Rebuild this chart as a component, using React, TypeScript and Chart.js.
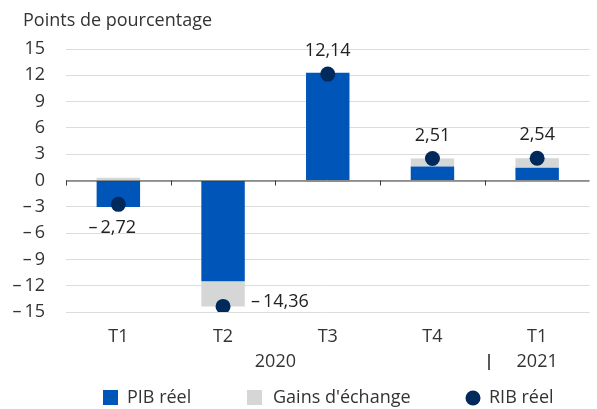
import React, { useEffect, useRef } from "react";
import { Chart, registerables } from "chart.js";

Chart.register(...registerables);

const categories = ["T1", "T2", "T3", "T4", "T1"];
const years = [
  { label: "2020", from: 0, to: 3 },
  { label: "2021", from: 4, to: 4 },
];
const pibReel = [-3.02, -11.5, 12.28, 1.6, 1.45];
const gainsEchange = [0.3, -2.86, -0.14, 0.91, 1.09];
const ribReel = [-2.72, -14.36, 12.14, 2.51, 2.54];
const yTicks = { min: -15, max: 15, step: 3 };
const titleText = "Points de pourcentage";
const legendLabels = ["PIB réel", "Gains d'échange", "RIB réel"];

const BLUE = "#0055b8";
const GRAY = "#d5d7d6";
const NAVY = "#002a5c";
const TEXT = "#222222";
const FONT = "'Open Sans', sans-serif";

const fmt = (v: number) => {
  const s = Math.abs(v).toFixed(2).replace(".", ",");
  return v < 0 ? "\u2013\u2009" + s : s;
};

const overlay = {
  id: "overlay",
  afterDatasetsDraw(chart: any) {
    const ctx = chart.ctx;
    const x = chart.scales.x;
    const y = chart.scales.y;
    const y0 = y.getPixelForValue(0);
    ctx.save();
    ctx.strokeStyle = "#3a3a3a";
    ctx.lineWidth = 1;
    ctx.beginPath();
    ctx.moveTo(chart.chartArea.left, y0 + 0.5);
    ctx.lineTo(chart.chartArea.right, y0 + 0.5);
    ctx.stroke();
    const w = x.getPixelForValue(1) - x.getPixelForValue(0);
    for (let i = 0; i < categories.length; i++) {
      const bx = Math.round(x.getPixelForValue(i) - w / 2) + 0.5;
      ctx.beginPath();
      ctx.moveTo(bx, y0);
      ctx.lineTo(bx, y0 + 5);
      ctx.stroke();
    }
    ctx.restore();
  },
  afterDraw(chart: any) {
    const ctx = chart.ctx;
    const x = chart.scales.x;
    const w = x.getPixelForValue(1) - x.getPixelForValue(0);
    ctx.save();
    ctx.fillStyle = "#333";
    ctx.font = `18px ${FONT}`;
    ctx.textAlign = "left";
    ctx.textBaseline = "middle";
    ctx.fillText(titleText, 23, 21);

    const meta = chart.getDatasetMeta(2);
    ctx.fillStyle = TEXT;
    ctx.font = `18px ${FONT}`;
    meta.data.forEach((pt: any, i: number) => {
      const v = ribReel[i];
      const t = fmt(v);
      if (i === 1) {
        ctx.textAlign = "left";
        ctx.fillText(t, pt.x + 28, pt.y - 5);
      } else if (v < 0) {
        ctx.textAlign = "center";
        ctx.fillText(t, pt.x - 6, pt.y + 24);
      } else {
        ctx.textAlign = "center";
        ctx.fillText(t, pt.x, pt.y - 23);
      }
    });

    ctx.fillStyle = "#333";
    ctx.font = `18px ${FONT}`;
    ctx.textAlign = "center";
    years.forEach((yr) => {
      const cx = (x.getPixelForValue(yr.from) + x.getPixelForValue(yr.to)) / 2;
      ctx.fillText(yr.label, cx, 362);
    });
    ctx.strokeStyle = "#222";
    ctx.lineWidth = 1.5;
    const sx = Math.round(x.getPixelForValue(3) + w / 2) + 4;
    ctx.beginPath();
    ctx.moveTo(sx, 354);
    ctx.lineTo(sx, 370);
    ctx.stroke();

    const ly = 398;
    ctx.font = `18px ${FONT}`;
    ctx.textAlign = "left";
    ctx.fillStyle = BLUE;
    ctx.fillRect(103, ly - 8, 15, 15);
    ctx.fillStyle = "#333";
    ctx.fillText(legendLabels[0], 127, ly);
    ctx.fillStyle = GRAY;
    ctx.fillRect(247, ly - 8, 15, 15);
    ctx.fillStyle = "#333";
    ctx.fillText(legendLabels[1], 273, ly);
    ctx.fillStyle = NAVY;
    ctx.beginPath();
    ctx.arc(473, ly, 7.5, 0, Math.PI * 2);
    ctx.fill();
    ctx.fillStyle = "#333";
    ctx.fillText(legendLabels[2], 489, ly);
    ctx.restore();
  },
};

export default function App() {
  const ref = useRef<HTMLCanvasElement | null>(null);
  useEffect(() => {
    if (!ref.current) return;
    const chart = new Chart(ref.current, {
      type: "bar",
      data: {
        labels: categories,
        datasets: [
          {
            type: "bar",
            label: legendLabels[0],
            data: pibReel,
            backgroundColor: BLUE,
            stack: "a",
            order: 2,
            barPercentage: 0.415,
            categoryPercentage: 1,
          },
          {
            type: "bar",
            label: legendLabels[1],
            data: gainsEchange,
            backgroundColor: GRAY,
            stack: "a",
            order: 3,
            barPercentage: 0.415,
            categoryPercentage: 1,
          },
          {
            type: "line",
            label: legendLabels[2],
            data: ribReel,
            showLine: false,
            stack: "rib",
            order: 0,
            pointRadius: 7.5,
            pointHoverRadius: 7.5,
            pointBackgroundColor: NAVY,
            pointBorderColor: NAVY,
            pointBorderWidth: 0,
          } as any,
        ],
      },
      options: {
        responsive: false,
        animation: false,
        layout: { padding: { top: 49, right: 1, left: 0, bottom: 0 } },
        plugins: {
          legend: { display: false },
          tooltip: { enabled: false },
          title: { display: false },
        },
        scales: {
          x: {
            stacked: true,
            grid: { display: false },
            border: { display: false },
            ticks: {
              color: "#333",
              font: { family: FONT, size: 18 },
              padding: 6,
            },
            afterFit: (s: any) => {
              s.height = 97;
            },
          },
          y: {
            stacked: true,
            min: yTicks.min,
            max: yTicks.max,
            grid: { color: "#dcdcdc", lineWidth: 1, drawTicks: false },
            border: { display: false },
            ticks: {
              stepSize: yTicks.step,
              color: "#333",
              font: { family: FONT, size: 18 },
              padding: 21,
              callback: (v: any) =>
                Number(v) < 0 ? "\u2013\u2009" + Math.abs(Number(v)) : String(v),
            },
            afterFit: (s: any) => {
              s.width = 66;
            },
          },
        },
      } as any,
      plugins: [overlay],
    });
    return () => chart.destroy();
  }, []);
  return (
    <div style={{ position: "absolute", left: 0, top: 0, width: 597, height: 409 }}>
      <canvas ref={ref} width={597} height={409} />
    </div>
  );
}
